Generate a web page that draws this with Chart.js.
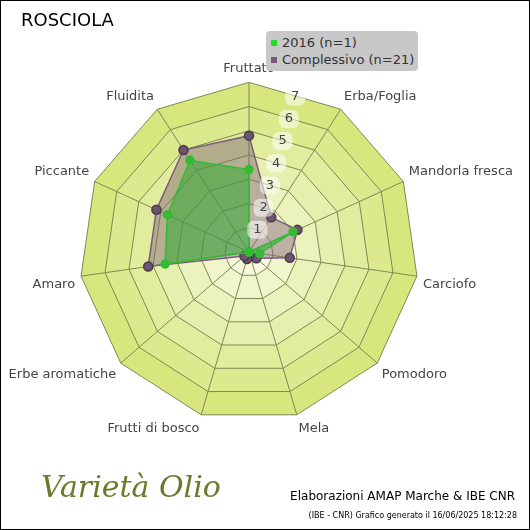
<!DOCTYPE html>
<html><head><meta charset="utf-8">
<script src="https://cdn.jsdelivr.net/npm/chart.js@4"></script>
<style>
body{margin:0;background:#fff;}
#wrap{position:relative;width:528px;height:528px;border:1px solid #000;font-family:"DejaVu Sans",sans-serif;}
#title{position:absolute;left:20px;top:8px;font-size:18px;color:#000;}
#credit{position:absolute;right:14px;top:488px;font-size:12px;color:#000;}
#gen{position:absolute;right:12px;top:510px;font-size:8px;color:#000;}
#logo{position:absolute;left:40px;top:468px;font-size:30px;font-style:italic;color:#6b7a2a;font-family:"DejaVu Serif",serif;}
#legend{position:absolute;left:265px;top:30px;width:152px;height:40px;background:#c8c8c8;border-radius:4px;font-size:13px;color:#333;}
#legend div{margin:3px 0 0 5px;line-height:17px;}
#legend span{display:inline-block;width:6px;height:6px;margin-right:5px;vertical-align:1px;}
</style></head><body>
<div id="wrap">
<canvas id="c" width="528" height="528"></canvas>
<div id="title">ROSCIOLA</div>
<div id="legend"><div><span style="background:#22dd22"></span>2016 (n=1)</div><div style="margin-top:0"><span style="background:#7a5a7a"></span>Complessivo (n=21)</div></div>
<div id="logo">Varietà Olio</div>
<div id="credit">Elaborazioni AMAP Marche &amp; IBE CNR</div>
<div id="gen">(IBE - CNR) Grafico generato il 16/06/2025 18:12:28</div>
</div>
<script>
// categorie e valori
const categories = ["Fruttato","Erba/Foglia","Mandorla fresca","Carciofo","Pomodoro","Mela","Frutti di bosco","Erbe aromatiche","Amaro","Piccante","Fluidita"];
const values2016 = [3.4, 0, 2.0, 0.45, 0, 0, 0, 0, 3.5, 3.7, 4.5];
const valuesAll = [4.8, 1.7, 2.2, 1.7, 0.4, 0.1, 0.3, 0.25, 4.2, 4.2, 5.0];
const tickValues = [1,2,3,4,5,6,7];

// riempimento degli anelli
const ringFill = {
  id: "ringFill",
  beforeDraw(chart) {
    const s = chart.scales.r, ctx = chart.ctx;
    const n = categories.length;
    for (let v = 7; v >= 1; v--) {
      const d = s.getDistanceFromCenterForValue(v);
      ctx.beginPath();
      for (let j = 0; j < n; j++) {
        const p = s.getPointPosition(j, d);
        j ? ctx.lineTo(p.x, p.y) : ctx.moveTo(p.x, p.y);
      }
      ctx.closePath();
      const t = (v - 1) / 6;
      const r = Math.round(245 - t * 30), g = Math.round(248 - t * 18), b = Math.round(220 - t * 95);
      ctx.fillStyle = `rgb(${r},${g},${b})`;
      ctx.fill();
    }
  },
  afterDatasetsDraw(chart) {
    // etichette dei valori spostate a destra come nell'originale
    const s = chart.scales.r, ctx = chart.ctx;
    ctx.save();
    ctx.font = "13px 'DejaVu Sans'";
    ctx.textAlign = "center";
    ctx.textBaseline = "middle";
    tickValues.forEach(v => {
      const d = s.getDistanceFromCenterForValue(v);
      const x = s.xCenter + 2 + d * 0.26, y = s.yCenter - d * 0.915;
      ctx.fillStyle = "rgba(255,255,255,0.55)";
      ctx.beginPath();
      ctx.roundRect(x - 10, y - 9, 20, 18, 6);
      ctx.fill();
      ctx.fillStyle = "#444";
      ctx.fillText(v, x, y);
    });
    ctx.restore();
  }
};

new Chart(document.getElementById("c"), {
  type: "radar",
  data: {
    labels: categories,
    datasets: [
      { label: "2016 (n=1)", data: values2016, borderColor: "#33bb33", backgroundColor: "rgba(50,170,50,0.55)",
        pointBackgroundColor: "#33bb33", pointBorderColor: "#33bb33", pointRadius: 4, borderWidth: 1.5 },
      { label: "Complessivo (n=21)", data: valuesAll, borderColor: "#7a5a7a", backgroundColor: "rgba(125,95,115,0.45)",
        pointBackgroundColor: "#6e5470", pointBorderColor: "#4a3a4a", pointRadius: 4.5, borderWidth: 1.5 }
    ]
  },
  plugins: [ringFill],
  options: {
    responsive: false,
    animation: false,
    layout: { padding: { left: 0, right: 0, top: 0, bottom: 35 } },
    plugins: { legend: { display: false }, tooltip: { enabled: false } },
    scales: {
      r: {
        min: 0, max: 7,
        ticks: { stepSize: 1, display: false },
        grid: { color: "#7d8a55", lineWidth: 1 },
        angleLines: { color: "#7d8a55" },
        pointLabels: { color: "#444", padding: 6, font: { size: 13, family: "DejaVu Sans" } }
      }
    }
  }
});
</script>
</body></html>
